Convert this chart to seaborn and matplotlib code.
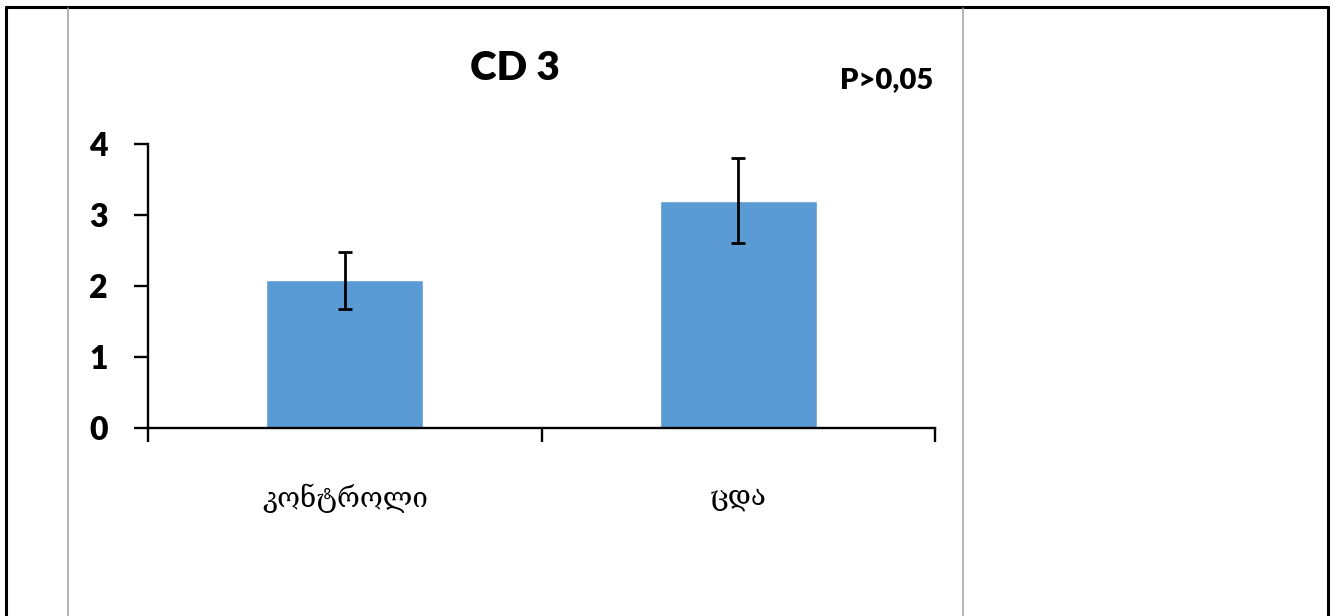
import matplotlib
matplotlib.use("Agg")
import matplotlib.pyplot as plt
import seaborn as sns
from matplotlib.lines import Line2D

categories = ["კონტროლი", "ცდა"]
means = [2.08, 3.20]
errors = [0.40, 0.60]
yticks = [0, 1, 2, 3, 4]
title = "CD 3"
pnote = "P>0,05"

sns.set_theme(style="white")
plt.rcParams['font.family'] = ['Lato', 'DejaVu Sans']
plt.rcParams['text.color'] = 'black'
plt.rcParams['xtick.color'] = 'black'
plt.rcParams['ytick.color'] = 'black'

W, H = 1333, 616
fig = plt.figure(figsize=(W / 100, H / 100), dpi=100)
fig.patch.set_facecolor("white")

def fx(px):
    return px / W

def fy(py):
    return 1 - py / H

ax = fig.add_axes([fx(148), fy(428), fx(935) - fx(148), fy(144) - fy(428)])
sns.barplot(x=categories, y=means, color="#5B9BD5", width=0.4, errorbar=None,
            saturation=1, ax=ax)
ax.errorbar(range(len(categories)), means, yerr=errors, fmt="none",
            ecolor="black", elinewidth=2, capsize=5, capthick=2)

ax.set_ylim(0, 4)
ax.set_xlim(-0.5, len(categories) - 0.5)
ax.set_yticks(yticks)
ax.set_yticklabels([str(v) for v in yticks], fontsize=23, fontweight="heavy",
                   color="black")
ax.tick_params(axis="y", which="major", direction="out", length=10, width=1.7,
               color="black", pad=19, left=True)
ax.set_xticks(range(len(categories)))
ax.set_xticklabels(categories, fontsize=20, family=['DejaVu Serif', 'DejaVu Sans'],
                   color="black")
ax.tick_params(axis="x", which="major", length=0, pad=40)
ax.set_xticks([-0.5, 0.5, 1.5], minor=True)
ax.tick_params(axis="x", which="minor", direction="out", length=10, width=1.7,
               color="black", bottom=True)
for s in ["top", "right"]:
    ax.spines[s].set_visible(False)
for s in ["left", "bottom"]:
    ax.spines[s].set_color("black")
    ax.spines[s].set_linewidth(1.7)
ax.set_xlabel("")
ax.set_ylabel("")
ax.set_facecolor("white")

fig.text(fx(515), fy(68), title, ha="center", va="center", fontsize=29,
         fontweight="heavy", color="black")
fig.text(fx(887), fy(80), pnote, ha="center", va="center", fontsize=21,
         fontweight="heavy", color="black")

# table borders
fig.add_artist(Line2D([fx(6), fx(6)], [fy(7), 0], transform=fig.transFigure,
                      color="black", lw=2.2))
fig.add_artist(Line2D([fx(1328), fx(1328)], [fy(7), 0], transform=fig.transFigure,
                      color="black", lw=2.2))
fig.add_artist(Line2D([fx(6), fx(1328)], [fy(7), fy(7)], transform=fig.transFigure,
                      color="black", lw=2.2))
for gx in (68, 963):
    fig.add_artist(Line2D([fx(gx), fx(gx)], [fy(8), 0], transform=fig.transFigure,
                          color="#a0a0a0", lw=1.1))

fig.savefig("out.png", dpi=100, facecolor="white")
